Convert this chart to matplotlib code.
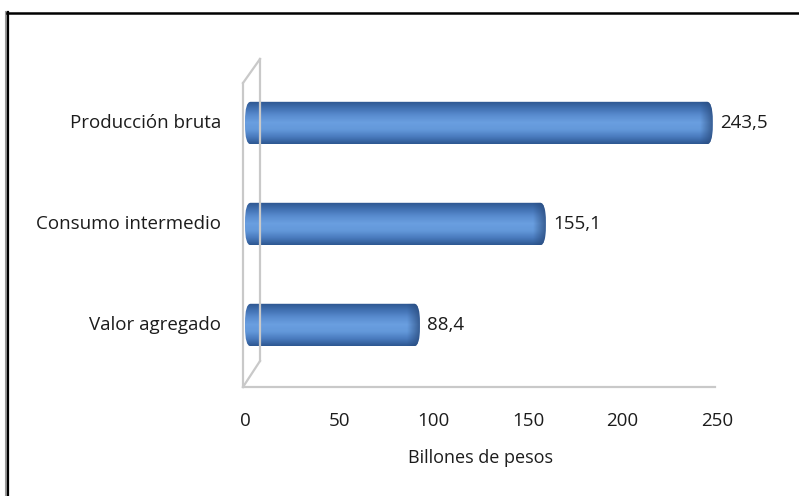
import matplotlib.pyplot as plt
import numpy as np
from matplotlib.patches import FancyBboxPatch
from matplotlib.colors import LinearSegmentedColormap
from matplotlib.lines import Line2D

plt.rcParams['font.family'] = ['Open Sans', 'DejaVu Sans']

categories = ['Valor agregado', 'Consumo intermedio', 'Producción bruta']
values = [88.4, 155.1, 243.5]
value_labels = ['88,4', '155,1', '243,5']
x_ticks = [0, 50, 100, 150, 200, 250]

W, H = 799, 496
fig = plt.figure(figsize=(W / 100, H / 100), dpi=100)
fig.patch.set_facecolor('white')

# axes placed in pixel terms: x 245..717, y 60..387 (from top)
ax = fig.add_axes([245 / W, 1 - 387 / H, (717 - 245) / W, (387 - 60) / H])
ax.set_xlim(0, 250)
ax.set_ylim(-0.614, 2.624)
ax.axis('off')

# cylinder shading: dark rim, light band around the centre
cyl = LinearSegmentedColormap.from_list(
    'cyl', ['#2d5690', '#4272b3', '#5a8dd0', '#6a9fe0', '#6398da', '#4a7cbf', '#2e5892'])
grad = np.linspace(0, 1, 64).reshape(-1, 1)

bar_h = 0.42
px_per_unit = (717 - 245) / 250
cap_w = 8 / px_per_unit  # rounded end, in data units

txt = dict(fontsize=13.5, color='#1c1c1c')

for i, (v, lab) in enumerate(zip(values, value_labels)):
    y0, y1 = i - bar_h / 2, i + bar_h / 2
    img = ax.imshow(grad, cmap=cyl, aspect='auto', origin='upper',
                    extent=(0, v + cap_w, y0, y1), zorder=3, interpolation='bilinear')
    clip = FancyBboxPatch((0, y0), v + cap_w, bar_h,
                          boxstyle='round,pad=0,rounding_size=%f' % (cap_w * 0.7),
                          mutation_aspect=bar_h / (2 * cap_w * 0.7) * 0.9,
                          transform=ax.transData, facecolor='none', edgecolor='none')
    ax.add_patch(clip)
    img.set_clip_path(clip)
    # darker shading toward the right end of the cylinder
    end_img = ax.imshow(np.linspace(0, 1, 32).reshape(1, -1),
                        cmap=LinearSegmentedColormap.from_list('end', [(0.16, 0.29, 0.48, 0.0), (0.16, 0.29, 0.48, 0.75)]),
                        aspect='auto', extent=(v - cap_w * 0.6, v + cap_w, y0, y1),
                        zorder=4, interpolation='bilinear')
    end_img.set_clip_path(clip)
    ax.text(v + 8.0, i, lab, ha='left', va='center', zorder=5, **txt)

# category labels
for i, c in enumerate(categories):
    ax.text(-12.5, i, c, ha='right', va='center', **txt)

# x tick labels and axis title
for t in x_ticks:
    ax.text(t, -0.95, str(t), ha='center', va='center', **txt)
ax.text(125, -1.32, 'Billones de pesos', ha='center', va='center', fontsize=13, color='#1c1c1c')

# 3-D wall and floor outline (pixel coordinates)
def px_line(xs, ys, **kw):
    fig.add_artist(Line2D([x / W for x in xs], [1 - y / H for y in ys],
                          transform=fig.transFigure, **kw))

wall = dict(color='#c9c9c9', lw=1.6, zorder=1)
px_line([243, 243], [83, 387], **wall)
px_line([243, 260], [83, 59], **wall)
px_line([260, 260], [59, 361], **wall)
px_line([260, 243], [361, 387], **wall)
px_line([243, 715], [387, 387], **wall)

# outer frame (top and left only)
px_line([5.5, 5.5], [12, H], color='#9a9a9a', lw=1.5)
px_line([7.5, 7.5], [12, H], color='black', lw=1.6)
px_line([6.5, W], [12.8, 12.8], color='black', lw=1.8)

fig.savefig('out.png', dpi=100)
